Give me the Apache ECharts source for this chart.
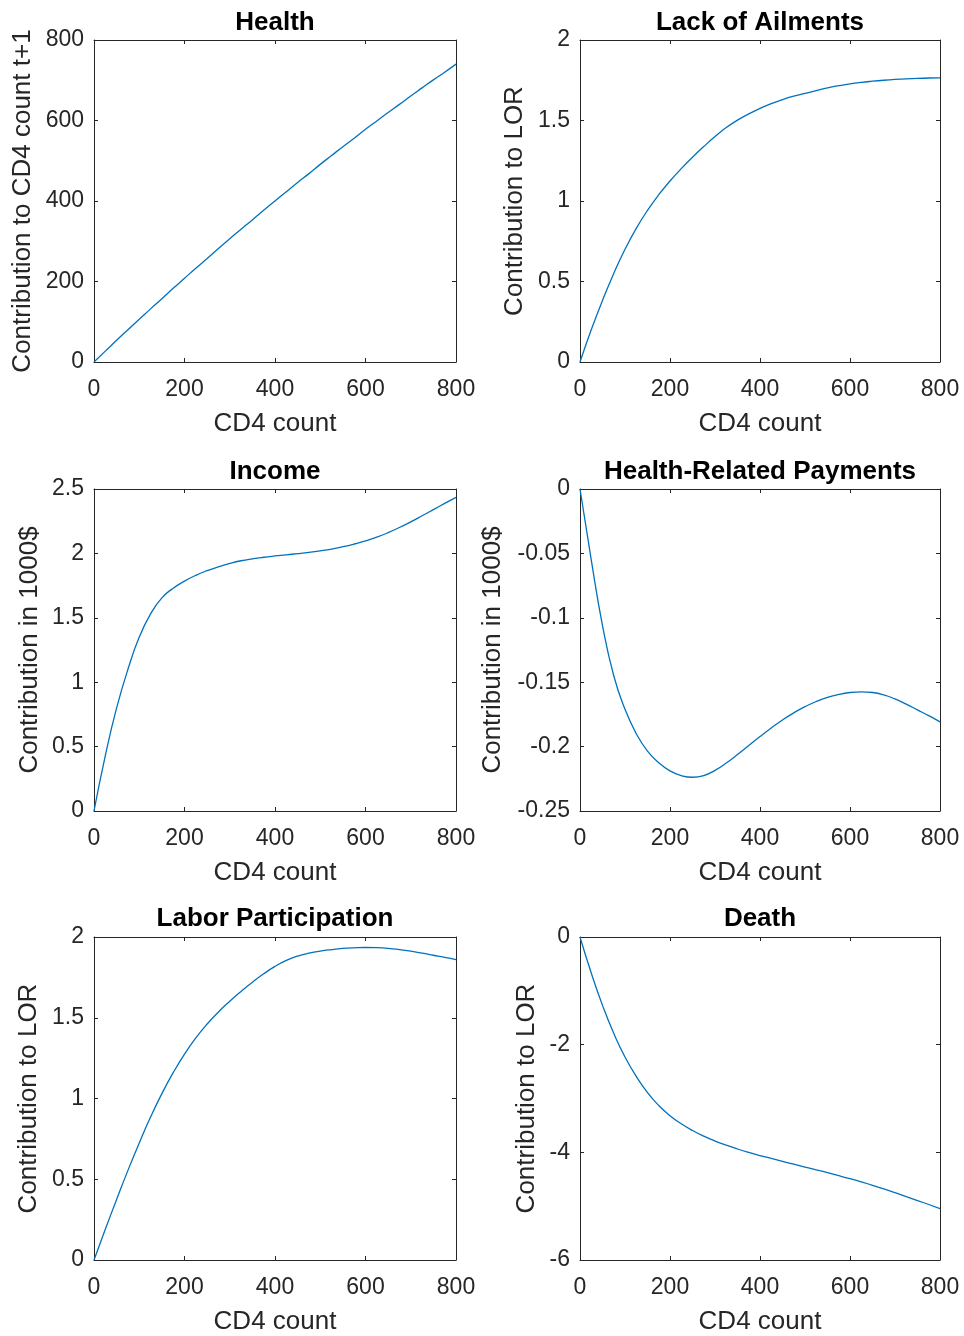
<!DOCTYPE html>
<html>
<head>
<meta charset="utf-8">
<script src="https://cdn.jsdelivr.net/npm/echarts@6/dist/echarts.min.js"></script>
<style>
html,body{margin:0;padding:0;background:#fff;}
#c{width:964px;height:1336px;}
</style>
</head>
<body>
<div id="c"></div>
<script>
// CD4 count sample points
const cd4 = [0,25,50,75,100,125,150,175,200,225,250,275,300,325,350,375,400,425,450,475,500,525,550,575,600,625,650,675,700,725,750,775,800];

const healthVals = [0,27,54,80,106,132,157,183,208,233,257,282,306,330,353,377,400,423,446,468,491,513,535,556,578,599,620,640,661,681,701,720,740];
const ailmentsVals = [0,0.2,0.382,0.55,0.7,0.83,0.942,1.039,1.124,1.201,1.272,1.338,1.4,1.456,1.502,1.541,1.575,1.605,1.63,1.651,1.668,1.686,1.702,1.716,1.728,1.737,1.744,1.75,1.755,1.759,1.762,1.764,1.765];
const incomeVals = [0,0.43,0.8,1.1,1.35,1.53,1.655,1.73,1.785,1.83,1.866,1.896,1.922,1.943,1.958,1.97,1.98,1.989,1.998,2.008,2.02,2.034,2.052,2.073,2.097,2.126,2.161,2.201,2.245,2.292,2.34,2.388,2.435];
const paymentsVals = [0,-0.055,-0.106,-0.145,-0.171,-0.19,-0.2035,-0.2125,-0.2188,-0.2225,-0.2238,-0.2225,-0.2185,-0.2128,-0.2062,-0.1992,-0.1922,-0.1855,-0.1793,-0.1738,-0.169,-0.165,-0.1618,-0.1595,-0.158,-0.1575,-0.158,-0.1598,-0.163,-0.167,-0.1715,-0.176,-0.1808];
const laborVals = [0,0.19,0.375,0.555,0.725,0.885,1.03,1.16,1.275,1.375,1.461,1.536,1.602,1.663,1.72,1.772,1.818,1.855,1.882,1.9,1.913,1.922,1.929,1.933,1.935,1.934,1.93,1.922,1.912,1.9,1.887,1.874,1.86];
const deathVals = [0,-0.67,-1.27,-1.79,-2.23,-2.59,-2.89,-3.13,-3.32,-3.47,-3.595,-3.7,-3.79,-3.868,-3.938,-4.001,-4.059,-4.114,-4.168,-4.221,-4.273,-4.325,-4.378,-4.433,-4.49,-4.55,-4.613,-4.68,-4.75,-4.822,-4.895,-4.969,-5.044];

const titles = ['Health','Lack of Ailments','Income','Health-Related Payments','Labor Participation','Death'];
const yNames = ['Contribution to CD4 count t+1','Contribution to LOR','Contribution in 1000$','Contribution in 1000$','Contribution to LOR','Contribution to LOR'];
const xName = 'CD4 count';
const xTicks = {min:0, max:800, interval:200};
const yTicks = [
  {min:0, max:800, interval:200},
  {min:0, max:2, interval:0.5},
  {min:0, max:2.5, interval:0.5},
  {min:-0.25, max:0, interval:0.05},
  {min:0, max:2, interval:0.5},
  {min:-6, max:0, interval:2}
];
const seriesVals = [healthVals, ailmentsVals, incomeVals, paymentsVals, laborVals, deathVals];

// layout
const grids = [
  {left:94, top:40, width:362, height:322},
  {left:580, top:40, width:360, height:322},
  {left:94, top:489, width:362, height:322},
  {left:580, top:489, width:360, height:322},
  {left:94, top:937, width:362, height:323},
  {left:580, top:937, width:360, height:323}
];
const yNameGap = [58, 52, 51, 74, 52, 40];
const titleTop = [10, 10, 459, 459, 906, 906];

const FONT = '"Liberation Sans", Arial, Helvetica, sans-serif';
const AX = '#262626';
const fmt = v => String(Number(v.toFixed(3)));

const option = {
  animation: false,
  backgroundColor: '#ffffff',
  title: [], grid: [], xAxis: [], yAxis: [], series: []
};

grids.forEach((g, i) => {
  option.grid.push({left:g.left, top:g.top, width:g.width, height:g.height, show:false, containLabel:false});
  option.title.push({
    text: titles[i], left: g.left + g.width/2, top: titleTop[i], textAlign: 'center', padding: 0,
    textStyle: {fontFamily: FONT, fontSize: 26, fontWeight: 'bold', color: '#000'}
  });
  const tickCommon = {show:true, inside:true, length:4, lineStyle:{color:AX, width:1}};
  option.xAxis.push({
    type:'value', gridIndex:i, position:'bottom', min:xTicks.min, max:xTicks.max, interval:xTicks.interval,
    name: xName, nameLocation:'middle', nameGap:49,
    nameTextStyle:{fontFamily:FONT, fontSize:26, color:AX},
    axisLine:{show:true, onZero:false, lineStyle:{color:AX, width:1}},
    axisTick: tickCommon,
    axisLabel:{show:true, margin:16, fontFamily:FONT, fontSize:23, color:AX, formatter: fmt},
    splitLine:{show:false}
  });
  option.xAxis.push({
    type:'value', gridIndex:i, position:'top', min:xTicks.min, max:xTicks.max, interval:xTicks.interval,
    axisLine:{show:true, onZero:false, lineStyle:{color:AX, width:1}},
    axisTick: tickCommon, axisLabel:{show:false}, splitLine:{show:false}
  });
  const yt = yTicks[i];
  option.yAxis.push({
    type:'value', gridIndex:i, position:'left', min:yt.min, max:yt.max, interval:yt.interval,
    name: yNames[i], nameLocation:'middle', nameGap:yNameGap[i], nameRotate:90,
    nameTextStyle:{fontFamily:FONT, fontSize:26, color:AX},
    axisLine:{show:true, onZero:false, lineStyle:{color:AX, width:1}},
    axisTick: tickCommon,
    axisLabel:{show:true, margin:10, fontFamily:FONT, fontSize:23, color:AX, formatter: fmt},
    splitLine:{show:false}
  });
  option.yAxis.push({
    type:'value', gridIndex:i, position:'right', min:yt.min, max:yt.max, interval:yt.interval,
    axisLine:{show:true, onZero:false, lineStyle:{color:AX, width:1}},
    axisTick: tickCommon, axisLabel:{show:false}, splitLine:{show:false}
  });
  option.series.push({
    type:'line', xAxisIndex:2*i, yAxisIndex:2*i, showSymbol:false, symbol:'none',
    smooth:true, clip:true,
    lineStyle:{color:'#0072BD', width:1.3},
    data: cd4.map((x, k) => [x, seriesVals[i][k]])
  });
});

const chart = echarts.init(document.getElementById('c'), null, {renderer:'canvas'});
chart.setOption(option);
</script>
</body>
</html>
